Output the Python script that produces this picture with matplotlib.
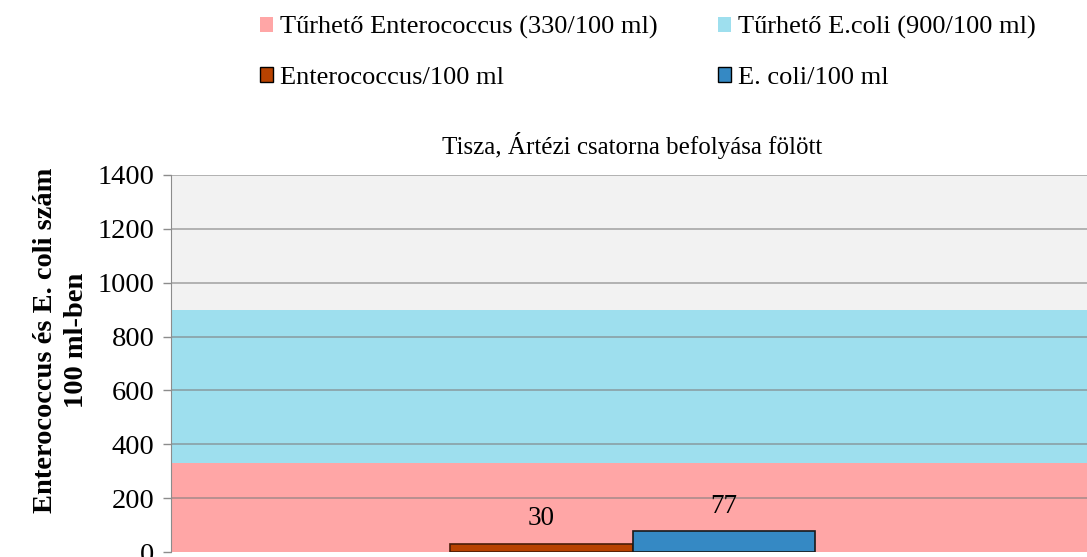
import numpy as np
import matplotlib.pyplot as plt
from matplotlib.patches import Patch

plt.rcParams['font.family'] = ['Liberation Serif', 'DejaVu Serif']

# limits (bands) and measured values
limit_labels = ["Tűrhető Enterococcus (330/100 ml)", "Tűrhető E.coli (900/100 ml)"]
limit_values = [330, 900]
series_labels = ["Enterococcus/100 ml", "E. coli/100 ml"]
series_values = [30, 77]
yticks = [0, 200, 400, 600, 800, 1000, 1200, 1400]

band_colors = ["#FFA6A6", "#9EDFEE", "#F2F2F2"]
bar_colors = ["#B84200", "#3589C4"]
bar_edges = ["#4a1c08", "#1a1a1a"]

fig = plt.figure(figsize=(10.87, 5.57), dpi=100)
ax = fig.add_axes([171 / 1087, 5 / 557, (1094 - 171) / 1087, (552 - 175) / 557])

ymax = 1400
ax.axhspan(0, limit_values[0], color=band_colors[0], zorder=0, lw=0)
ax.axhspan(limit_values[0], limit_values[1], color=band_colors[1], zorder=0, lw=0)
ax.axhspan(limit_values[1], ymax, color=band_colors[2], zorder=0, lw=0)

for y in yticks[1:]:
    ax.axhline(y, color="#7f7f7f", lw=1.3, alpha=0.6, zorder=1)

w = 0.198
xs = [-w / 2, w / 2]
for x, v, c, e in zip(xs, series_values, bar_colors, bar_edges):
    ax.bar(x, v, width=w, color=c, edgecolor=e, lw=1.2, zorder=2)
    ax.text(x, v + 93, str(v), ha="center", va="center", fontsize=19.5, zorder=3)

ax.set_xlim(-0.5, 0.5)
ax.set_ylim(0, ymax)
ax.set_yticks(yticks)
ax.set_xticks([])
ax.tick_params(axis="y", labelsize=20.5, length=6, color="#8c8c8c", width=1, pad=6)
for s in ["top", "right", "bottom"]:
    ax.spines[s].set_visible(False)
ax.spines["left"].set_color("#8c8c8c")

ax.set_title("Tisza, Ártézi csatorna befolyása fölött", fontsize=18, pad=15)
fig.text(61 / 1087, 1 - 340 / 557, "Enterococcus és E. coli szám\n100 ml-ben",
         rotation=90, ha="center", va="center", fontsize=20.5, fontweight="bold", linespacing=1.3)

handles = [
    Patch(facecolor=band_colors[0], edgecolor="none"),
    Patch(facecolor=bar_colors[0], edgecolor="black", lw=1),
    Patch(facecolor=band_colors[1], edgecolor="none"),
    Patch(facecolor=bar_colors[1], edgecolor="black", lw=1),
]
labels = [limit_labels[0], series_labels[0], limit_labels[1], series_labels[1]]
fig.legend(handles, labels, ncol=2, loc="upper left", bbox_to_anchor=(236 / 1087, 1 + 8 / 557),
           frameon=False, fontsize=19, handlelength=0.5, handleheight=0.5, handletextpad=0.25,
           columnspacing=2.3, labelspacing=1.07)

fig.savefig("out.png", dpi=100)
